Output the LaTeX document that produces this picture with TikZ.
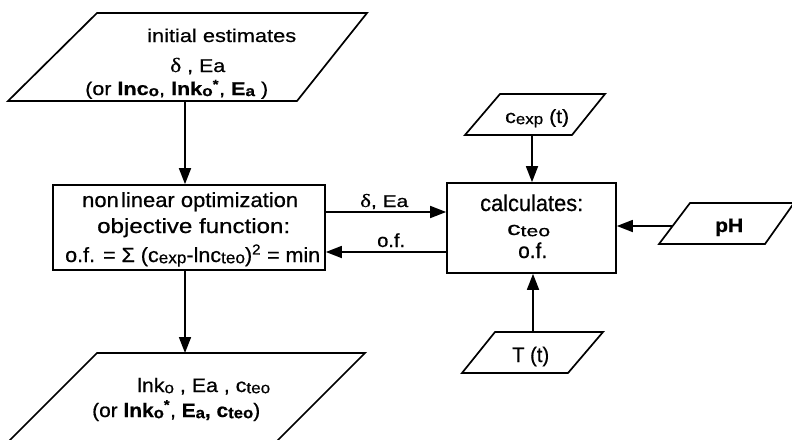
\documentclass[tikz,border=0pt]{standalone}
\usepackage{fontspec}
\usepackage{graphicx}
\setmainfont{Liberation Sans}[UprightFeatures={FakeBold=0.6}, BoldFeatures={FakeBold=0.6}]
\newfontfamily\grkserif{Liberation Serif}[FakeBold=0.6]
\usetikzlibrary{arrows.meta}

% stretch a line of text horizontally to a given width (in pt)
\newcommand\wfit[2]{\resizebox{#1pt}{\height}{#2}}
% small lowered index letters
\newcommand\lo[1]{\raisebox{-0.06em}{\scalebox{0.8}{#1}}}
\newcommand\fs[1]{\fontsize{#1pt}{#1pt}\selectfont}
\newcommand\dlt{{\grkserif\scalebox{1.1}{δ}}}

\tikzset{
  frame/.style={draw=black, line width=1.7pt, line join=miter},
  arr/.style={line width=1.7pt, -{Triangle[length=16pt,width=12pt]}},
  txt/.style={inner sep=0pt, anchor=base west, text=black},
  procbox/.style={draw=black, line width=1.7pt, rectangle, inner sep=0pt}
}

\begin{document}
\begin{tikzpicture}[x=1pt, y=-1pt]
\useasboundingbox[fill=white] (0,0) rectangle (792,439);
\clip (0,0) rectangle (792,439);

% ---- input data (top parallelogram)
\coordinate (inTL) at (97,13);
\coordinate (inTR) at (367,13);
\coordinate (inBR) at (297,101);
\coordinate (inBL) at (8,101);
\coordinate (inOut) at (185,101);
\draw[frame] (inTL) -- (inTR) -- (inBR) -- (inBL) -- cycle;
\node[txt] (in1) at (147,42) {\wfit{149}{\fs{18.5}initial estimates}};
\node[txt] (in2) at (170,72) {\wfit{55}{\fs{18.5}\dlt\ , Ea}};
\node[txt] (in3) at (85,95) {\wfit{183}{\fs{18.5}(or \textbf{lnc\lo{o}}, \textbf{lnk\lo{o}\textsuperscript{*}}, \textbf{E\lo{a}} )}};

% ---- optimisation box
\node[procbox, minimum width=272pt, minimum height=85pt] (opt) at (189,227.5) {};
\node[txt] (opt1) at (82,207) {\wfit{216}{\fs{20.5}non\kern0.1em linear optimization}};
\node[txt] (opt2) at (97,233) {\wfit{193}{\fs{20.5}objective function:}};
\node[txt] (opt3) at (65,262) {\wfit{255}{\fs{20.5}o.f. = {Σ} (c\lo{exp}-lnc\lo{teo})\textsuperscript{2} = min}};

% ---- model box
\node[procbox, minimum width=169pt, minimum height=90pt] (calc) at (531.5,228) {};
\node[txt] (calc1) at (480,211) {\wfit{103}{\fs{23}calculates:}};
\node[txt] (calc2) at (507,235) {\wfit{43}{\fs{19}c\lo{teo}}};
\node[txt] (calc3) at (518,258) {\wfit{29}{\fs{21.5}o.f.}};

% ---- measured concentrations
\coordinate (cxTL) at (500,94);
\coordinate (cxTR) at (605,94);
\coordinate (cxBR) at (572,135);
\coordinate (cxBL) at (465,135);
\coordinate (cxOut) at (532,135);
\draw[frame] (cxTL) -- (cxTR) -- (cxBR) -- (cxBL) -- cycle;
\node[txt] (cx) at (505,123) {\wfit{64}{\fs{19}c\lo{exp} (t)}};

% ---- pH
\coordinate (phTL) at (690,203);
\coordinate (phTR) at (794,203);
\coordinate (phBR) at (765,244);
\coordinate (phBL) at (659,244);
\coordinate (phOut) at (672,226);
\draw[frame] (phTL) -- (phTR) -- (phBR) -- (phBL) -- cycle;
\node[txt] (ph) at (715,232) {\wfit{28}{\fs{19.5}\textbf{pH}}};

% ---- temperature
\coordinate (tTL) at (495,332);
\coordinate (tTR) at (603,332);
\coordinate (tBR) at (568,373);
\coordinate (tBL) at (462,373);
\coordinate (tOut) at (533,332);
\draw[frame] (tTL) -- (tTR) -- (tBR) -- (tBL) -- cycle;
\node[txt] (tt) at (512,362) {\wfit{37}{\fs{21}T (t)}};

% ---- results (bottom parallelogram)
\coordinate (outTL) at (97,353);
\coordinate (outTR) at (365,353);
\coordinate (outBR) at (277,441);
\coordinate (outBL) at (9,441);
\coordinate (outIn) at (185,353);
\draw[frame] (outTL) -- (outTR) -- (outBR) -- (outBL) -- cycle;
\node[txt] (out1) at (137,392) {\wfit{133}{\fs{19.5}lnk\lo{o} , Ea , c\lo{teo}}};
\node[txt] (out2) at (92,417) {\wfit{168}{\fs{19.5}(or \textbf{lnk\lo{o}\textsuperscript{*}}, \textbf{E\lo{a}, c\lo{teo}})}};

% ---- connectors
\coordinate (fwd) at (0,212);
\coordinate (back) at (0,252);
\draw[arr] (inOut) -- (inOut |- opt.north);
\draw[arr] (inOut |- opt.south) -- (outIn);
\draw[arr] (fwd -| opt.east) -- (fwd -| calc.west);
\draw[arr] (back -| calc.west) -- (back -| opt.east);
\draw[arr] (cxOut) -- (cxOut |- calc.north);
\draw[arr] (phOut) -- (phOut -| calc.east);
\draw[arr] (tOut) -- (tOut |- calc.south);
\node[txt] (fwdl) at (360,207) {\wfit{48}{\fs{17}\dlt, Ea}};
\node[txt] (backl) at (377,247) {\wfit{28}{\fs{19}o.f.}};
\end{tikzpicture}
\end{document}
